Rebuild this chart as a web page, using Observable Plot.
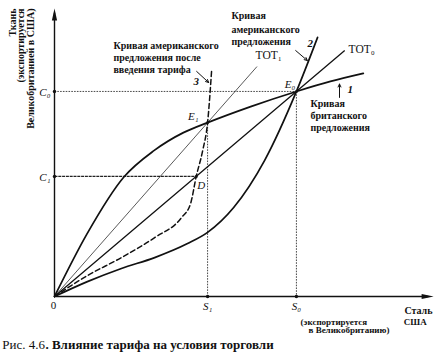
<!DOCTYPE html>
<html><head><meta charset="utf-8">
<script src="https://cdn.jsdelivr.net/npm/d3@7"></script>
<script src="https://cdn.jsdelivr.net/npm/@observablehq/plot@0.6"></script>
<style>body{margin:0;background:#fff} svg text{font-family:"Liberation Serif","DejaVu Serif",serif}</style>
</head><body><div id="chart"></div>
<script>
// ---- Data (arbitrary units; both axes 0–100) ----
const steelLabels = ["S₁", "S₀"];
const steelValues = [40.5, 64.0];
const clothLabels = ["C₁", "C₀"];
const clothValues = [42.0, 71.7];
const pointLabels = ["E₀", "E₁", "D"];
const pointX = [64.0, 40.5, 37.5];
const pointY = [71.7, 60.8, 42.0];
// curve 1: British offer curve
const britishX = [0, 8.6, 18.3, 26.3, 34.1, 40.5, 51.9, 64.0, 73.0, 81.7];
const britishY = [0, 21.9, 41.7, 51.0, 57.3, 60.8, 66.4, 71.7, 75.2, 78.0];
// curve 2: American offer curve
const americanX = [0, 8.7, 17.7, 26.5, 35.2, 40.5, 47.4, 55.6, 64.0, 69.6];
const americanY = [0, 5.2, 9.8, 13.6, 18.5, 22.4, 31.1, 47.6, 71.7, 90.6];
// curve 3: American offer curve after the tariff (dashed)
const tariffX = [0, 8.7, 17.7, 26.5, 33.6, 36.0, 37.5, 39.2, 40.5, 41.6];
const tariffY = [0, 7.3, 13.6, 20.6, 27.6, 32.5, 42.0, 51.0, 60.8, 79.7];
// terms-of-trade rays
const totLabels = ["TOT₀", "TOT₁"];
const totEndX = [76.7, 53.5];
const totEndY = [85.9, 80.3];

// ---- derived tables ----
const pts = (xs, ys) => xs.map((x, i) => ({x, y: ys[i]}));
const british = pts(britishX, britishY);
const american = pts(americanX, americanY);
const tariff = pts(tariffX, tariffY);
const tot0 = [{x: 0, y: 0}, {x: totEndX[0], y: totEndY[0]}];
const tot1 = [{x: 0, y: 0}, {x: totEndX[1], y: totEndY[1]}];
const E0 = {x: pointX[0], y: pointY[0]}, E1 = {x: pointX[1], y: pointY[1]}, D = {x: pointX[2], y: pointY[2]};
const guides = [
  {x1: 0, y1: clothValues[1], x2: E0.x, y2: E0.y},
  {x1: E0.x, y1: E0.y, x2: steelValues[1], y2: 0},
  {x1: steelValues[0], y1: 0, x2: E1.x, y2: E1.y}
];
const guideC1 = [{x1: 0, y1: clothValues[0], x2: D.x, y2: D.y}];
const ticks = [
  ...steelValues.map(v => ({x: v, y: 0})),
  ...clothValues.map(v => ({x: 0, y: v}))
];

const ink = "#111";
const serif = "Liberation Serif, DejaVu Serif, serif";

const headUp = {draw(ctx) { ctx.moveTo(0, 0); ctx.lineTo(2.6, 12); ctx.lineTo(-2.6, 12); ctx.closePath(); }};
const headRight = {draw(ctx) { ctx.moveTo(0, 0); ctx.lineTo(-12, 2.6); ctx.lineTo(-12, -2.6); ctx.closePath(); }};

// annotations (placement only)
const boldLabels = [
  {x: 15.6, y: 86.4, t: "Кривая американского"},
  {x: 15.6, y: 82.2, t: "предложения после"},
  {x: 15.6, y: 78.0, t: "введения тарифа"},
  {x: 46.8, y: 96.9, t: "Кривая"},
  {x: 46.8, y: 92.3, t: "американского"},
  {x: 46.8, y: 87.8, t: "предложения"},
  {x: 67.7, y: 66.1, t: "Кривая"},
  {x: 67.7, y: 61.9, t: "британского"},
  {x: 67.7, y: 57.7, t: "предложения"}
];
const smallLabels = [
  {x: 65.1, y: -9.8, t: "(экспортируется"},
  {x: 92.4, y: -9.8, t: "США"},
  {x: 67.2, y: -12.9, t: "в Великобританию)"}
];
const curveNums = [
  {x: 66.9, y: 87.1, t: "2"},
  {x: 77.5, y: 71.0, t: "1"},
  {x: 36.8, y: 73.8, t: "3"}
];
const pointerArrows = [
  {x1: 37.6, y1: 78.7, x2: 40.8, y2: 74.8},
  {x1: 63.8, y1: 86.0, x2: 66.9, y2: 82.5},
  {x1: 75.4, y1: 69.6, x2: 75.4, y2: 74.3}
];
const yTitle = [
  {x: -10.3, t: "Ткань"},
  {x: -8.2, t: "(экспортируется"},
  {x: -5.3, t: "Великобританией в США)"}
];

const T = (data, opts) => Plot.text(data, {fontFamily: serif, fill: ink, lineAnchor: "bottom", ...opts});

const chart = Plot.plot({
  width: 435, height: 357,
  marginLeft: 54, marginRight: 3, marginTop: 10, marginBottom: 61,
  x: {domain: [0, 100], axis: null},
  y: {domain: [0, 100], axis: null},
  style: {background: "#fff", fontFamily: serif, color: ink},
  marks: [
    // guide lines
    Plot.link(guides, {x1: "x1", y1: "y1", x2: "x2", y2: "y2", stroke: "#333", strokeWidth: 0.9, strokeDasharray: "1.6,1.2"}),
    Plot.link(guideC1, {x1: "x1", y1: "y1", x2: "x2", y2: "y2", stroke: "#222", strokeWidth: 1.1, strokeDasharray: "3,0.8"}),
    // axes
    Plot.ruleX([0], {y1: 0, y2: 99, stroke: ink, strokeWidth: 1.4}),
    Plot.ruleY([0], {x1: 0, x2: 99, stroke: ink, strokeWidth: 1.4}),
    Plot.dot([{x: 0, y: 100.7}], {x: "x", y: "y", symbol: headUp, fill: ink, stroke: "none", r: 3}),
    Plot.dot([{x: 100.3, y: 0}], {x: "x", y: "y", symbol: headRight, fill: ink, stroke: "none", r: 3}),
    // terms of trade
    Plot.line(tot0, {x: "x", y: "y", stroke: ink, strokeWidth: 1.3}),
    Plot.line(tot1, {x: "x", y: "y", stroke: ink, strokeWidth: 0.7}),
    // offer curves
    Plot.line(british, {x: "x", y: "y", curve: "monotone-x", stroke: ink, strokeWidth: 1.7}),
    Plot.line(american, {x: "x", y: "y", curve: "monotone-x", stroke: ink, strokeWidth: 1.7}),
    Plot.line(tariff, {x: "x", y: "y", curve: "monotone-x", stroke: ink, strokeWidth: 1.5, strokeDasharray: "5,3"}),
    // tick dots and points
    Plot.dot(ticks, {x: "x", y: "y", r: 1.7, fill: ink}),
    Plot.dot([E0, E1, D], {x: "x", y: "y", r: 1.5, fill: ink}),
    // pointer arrows
    Plot.arrow(pointerArrows, {x1: "x1", y1: "y1", x2: "x2", y2: "y2", stroke: ink, strokeWidth: 1, headLength: 5, headAngle: 50}),
    // text labels
    T(boldLabels, {x: "x", y: "y", text: "t", textAnchor: "start", fontSize: 10, fontWeight: "bold"}),
    T(smallLabels, {x: "x", y: "y", text: "t", textAnchor: "start", fontSize: 9, fontWeight: "bold"}),
    T(curveNums, {x: "x", y: "y", text: "t", textAnchor: "start", fontSize: 11, fontStyle: "italic", fontWeight: "bold"}),
    T(totLabels, {x: (d, i) => i === 0 ? 77.8 : 53.2, y: (d, i) => i === 0 ? 85.3 : 83.2, text: d => d, textAnchor: "start", fontSize: 11.5}),
    T([0], {x: () => pointX[0], y: () => pointY[0], text: () => pointLabels[0], dx: -1, dy: -3, textAnchor: "end", fontSize: 11, fontStyle: "italic"}),
    T([0], {x: () => pointX[1], y: () => pointY[1], text: () => pointLabels[1], dx: -9, dy: -3, textAnchor: "end", fontSize: 11, fontStyle: "italic"}),
    T([0], {x: () => pointX[2], y: () => pointY[2], text: () => pointLabels[2], dx: 1, dy: 13, textAnchor: "start", fontSize: 11, fontStyle: "italic"}),
    T(clothValues, {x: 0, y: d => d, text: (d, i) => clothLabels[i], dx: -4, dy: 5, textAnchor: "end", fontSize: 11, fontStyle: "italic"}),
    T(steelValues, {x: d => d, y: 0, text: (d, i) => steelLabels[i], dy: 13, textAnchor: "middle", fontSize: 11, fontStyle: "italic"}),
    T(["0"], {x: 0, y: 0, text: d => d, dx: -1, dy: 12, textAnchor: "middle", fontSize: 11}),
    T(["Сталь"], {x: 100, y: 0, text: d => d, dy: 17, textAnchor: "end", fontSize: 10, fontWeight: "bold"}),
    T(yTitle, {x: "x", y: 100.7, text: "t", rotate: -90, textAnchor: "end", fontSize: 10, fontWeight: "bold"}),
    // caption
    T(["Рис. 4.6"], {x: -13.8, y: -18.2, text: d => d, textAnchor: "start", fontSize: 13}),
    T([". Влияние тарифа на условия торговли"], {x: -2.4, y: -18.2, text: d => d, textAnchor: "start", fontSize: 13, fontWeight: "bold"})
  ]
});
document.getElementById("chart").appendChild(chart);
</script>
</body></html>
